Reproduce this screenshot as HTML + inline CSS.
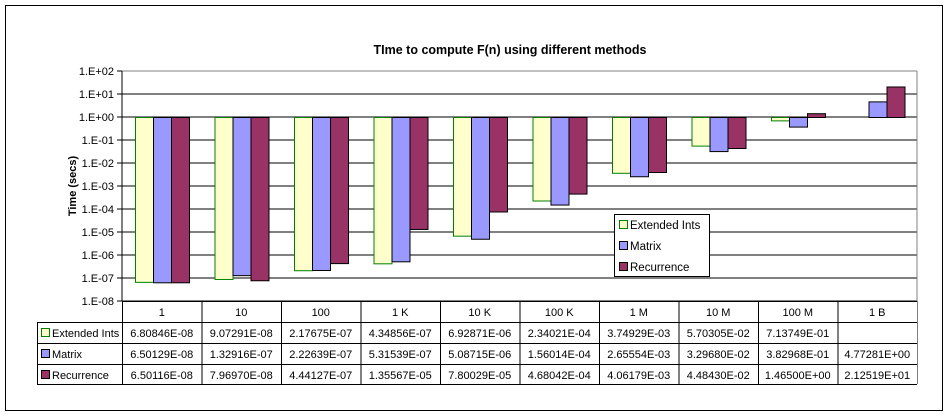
<!DOCTYPE html>
<html><head><meta charset="utf-8"><style>
body{margin:0;background:#fff;width:948px;height:413px;overflow:hidden}
svg{font-family:"Liberation Sans",Arial,sans-serif}
</style></head><body>
<svg id="chart" width="948" height="413">
<rect x="5.5" y="5.5" width="937" height="405" fill="#fff" stroke="#000"/>
<text x="510" y="54" text-anchor="middle" font-size="12.5" font-weight="bold">TIme to compute F(n) using different methods</text>
<text transform="translate(76,186) rotate(-90)" text-anchor="middle" font-size="11" font-weight="bold">Time (secs)</text>
<g id="grid"></g><g id="bars"></g><g id="table"></g><g id="legend"></g>
</svg>
<script>
const categories=["1","10","100","1 K","10 K","100 K","1 M","10 M","100 M","1 B"];
const seriesNames=["Extended Ints","Matrix","Recurrence"];
const extInts=[6.80846e-8,9.07291e-8,2.17675e-7,4.34856e-7,6.92871e-6,2.34021e-4,3.74929e-3,5.70305e-2,7.13749e-1,null];
const matrix=[6.50129e-8,1.32916e-7,2.22639e-7,5.31539e-7,5.08715e-6,1.56014e-4,2.65554e-3,3.29680e-2,3.82968e-1,4.77281];
const recurrence=[6.50116e-8,7.96970e-8,4.44127e-7,1.35567e-5,7.80029e-5,4.68042e-4,4.06179e-3,4.48430e-2,1.46500,2.12519e1];
const extLabels=["6.80846E-08","9.07291E-08","2.17675E-07","4.34856E-07","6.92871E-06","2.34021E-04","3.74929E-03","5.70305E-02","7.13749E-01",""];
const matLabels=["6.50129E-08","1.32916E-07","2.22639E-07","5.31539E-07","5.08715E-06","1.56014E-04","2.65554E-03","3.29680E-02","3.82968E-01","4.77281E+00"];
const recLabels=["6.50116E-08","7.96970E-08","4.44127E-07","1.35567E-05","7.80029E-05","4.68042E-04","4.06179E-03","4.48430E-02","1.46500E+00","2.12519E+01"];
const yTicks=["1.E+02","1.E+01","1.E+00","1.E-01","1.E-02","1.E-03","1.E-04","1.E-05","1.E-06","1.E-07","1.E-08"];
const NS="http://www.w3.org/2000/svg";
const L=122,R=917,T=71,B=301,cw=(R-L)/10;
const y=v=>T+(2-Math.log10(v))*23;
const xc=i=>L+i*cw;
function mk(tag,attrs,parent,txt){const e=document.createElementNS(NS,tag);for(const k in attrs)e.setAttribute(k,attrs[k]);if(txt!==undefined)e.textContent=txt;parent.appendChild(e);return e;}
const grid=document.getElementById('grid');
yTicks.forEach((t,i)=>{const yy=T+i*23;
 const ln=mk('line',{x1:L,x2:R,y1:yy,y2:yy,stroke:i==0?'#808080':'#000','stroke-width':1},grid);
 
 mk('line',{x1:L-5,x2:L,y1:yy,y2:yy,stroke:'#000'},grid);
 const tx=mk('text',{x:L-8,y:yy+4,'text-anchor':'end','font-size':11},grid,t);
 });
mk('line',{x1:R,x2:R,y1:T,y2:B,stroke:'#808080'},grid);
mk('line',{x1:L,x2:L,y1:T,y2:B,stroke:'#000'},grid);
const bars=document.getElementById('bars');
const series=[extInts,matrix,recurrence];
const fills=['#ffffcc','#9999ff','#993366'];
const strokes=['#008000','#000','#000'];
series.forEach((s,si)=>s.forEach((v,i)=>{if(v==null)return;
 const x=xc(i)+13+si*18,y0=y(1),y1=y(v);
 const r=mk('rect',{x:x+0.5,y:Math.min(y0,y1)+0.5,width:18,height:Math.max(Math.abs(y1-y0),1),fill:fills[si],stroke:strokes[si]},bars);
 }));
const tb=document.getElementById('table');
const rowsY=[301,322,343,364,384];
rowsY.forEach((yy,i)=>mk('line',{x1:i==0?L:37,x2:R,y1:yy+0.5,y2:yy+0.5,stroke:'#000'},tb));
mk('line',{x1:37.5,x2:37.5,y1:322,y2:384,stroke:'#000'},tb);
for(let i=0;i<=10;i++)mk('line',{x1:xc(i)+0.5,x2:xc(i)+0.5,y1:301,y2:384,stroke:i==10?'#808080':'#000'},tb);
categories.forEach((c,i)=>{const t=mk('text',{x:xc(i)+cw/2,y:316,'text-anchor':'middle','font-size':11},tb,c);
 });
[extLabels,matLabels,recLabels].forEach((arr,si)=>{
 mk('rect',{x:41.5,y:rowsY[si+1]+6.5,width:8,height:8,fill:fills[si],stroke:strokes[si]},tb);
 const n=mk('text',{x:52,y:rowsY[si+1]+15,'font-size':11},tb,seriesNames[si]);
 
 arr.forEach((v,i)=>{const t=mk('text',{x:xc(i)+cw/2,y:rowsY[si+1]+15,'text-anchor':'middle','font-size':11},tb,v);
  });});
const lg=document.getElementById('legend');
const lb=mk('rect',{x:614.5,y:214.5,width:95,height:62,fill:'#fff',stroke:'#000'},lg);

seriesNames.forEach((n,i)=>{const yy=225+i*21;
 mk('rect',{x:619.5,y:yy-4.5,width:8,height:8,fill:fills[i],stroke:strokes[i]},lg);
 const t=mk('text',{x:630,y:yy+4,'font-size':11.5},lg,n);
 });
</script>
</body></html>
